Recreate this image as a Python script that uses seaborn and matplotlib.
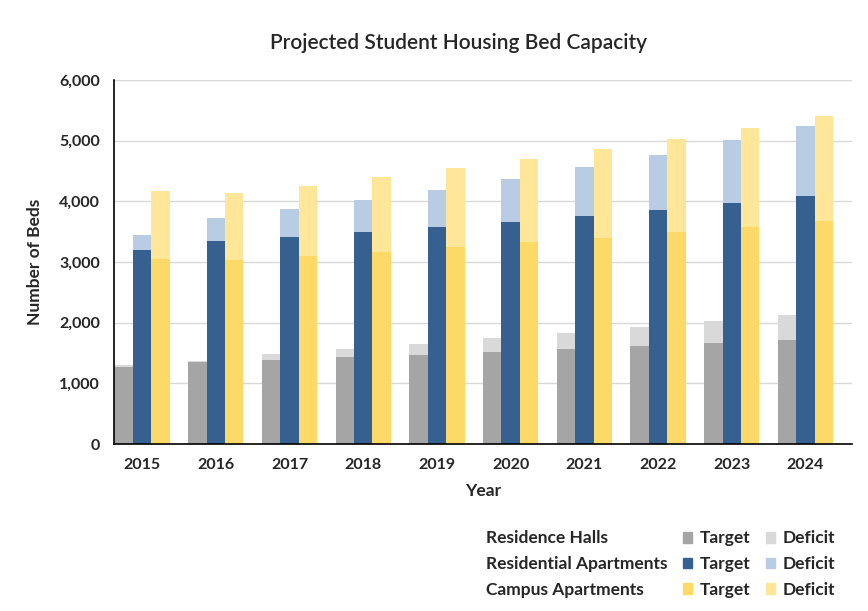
import pandas as pd
import numpy as np
import matplotlib.pyplot as plt
import matplotlib.patches as mpatches
import seaborn as sns

# values
years = ['2015', '2016', '2017', '2018', '2019', '2020', '2021', '2022', '2023', '2024']
housing = ['Residence Halls', 'Residential Apartments', 'Campus Apartments']

halls_target = [1270, 1345, 1385, 1440, 1470, 1515, 1565, 1615, 1665, 1715]
halls_deficit = [25, 22, 98, 127, 180, 230, 265, 315, 365, 413]
res_apt_target = [3200, 3345, 3410, 3495, 3580, 3660, 3765, 3855, 3970, 4090]
res_apt_deficit = [245, 380, 465, 525, 605, 710, 800, 910, 1035, 1150]
camp_apt_target = [3045, 3035, 3100, 3165, 3245, 3330, 3395, 3495, 3575, 3675]
camp_apt_deficit = [1125, 1100, 1155, 1235, 1305, 1370, 1470, 1530, 1635, 1730]

dark_cols = ['#a5a5a5', '#35608f', '#fdd967']
light_cols = ['#d9d9d9', '#b8cce4', '#ffe699']

targets = [halls_target, res_apt_target, camp_apt_target]
deficits = [halls_deficit, res_apt_deficit, camp_apt_deficit]

rows = []
for h, t, d in zip(housing, targets, deficits):
    for y, tv, dv in zip(years, t, d):
        rows.append({'Year': y, 'Housing': h, 'Target': tv, 'Total': tv + dv})
df = pd.DataFrame(rows)

sns.set_style('white')
plt.rcParams['font.family'] = ['Lato', 'DejaVu Sans']

fig = plt.figure(figsize=(8.68, 6.11), dpi=100)
ax = fig.add_axes([114/868, 1-444/611, (852-114)/868, (444-80)/611])

# total (target + deficit) drawn behind, target on top
sns.barplot(data=df, x='Year', y='Total', hue='Housing', hue_order=housing,
            palette=light_cols, width=0.75, errorbar=None, legend=False,
            saturation=1, linewidth=0, ax=ax, zorder=2)
sns.barplot(data=df, x='Year', y='Target', hue='Housing', hue_order=housing,
            palette=dark_cols, width=0.75, errorbar=None, legend=False,
            saturation=1, linewidth=0, ax=ax, zorder=3)

ax.set_xlim(-0.38, 9.63)
ax.set_ylim(0, 6000)
ax.set_yticks(np.arange(0, 6001, 1000))
ax.set_yticklabels([f'{v:,}' for v in range(0, 6001, 1000)])
ax.yaxis.grid(True, color='#d9d9d9', linewidth=1, zorder=0)
ax.set_axisbelow(True)
for s in ['top', 'right']:
    ax.spines[s].set_visible(False)
for s in ['left', 'bottom']:
    ax.spines[s].set_color('black')
    ax.spines[s].set_linewidth(1.2)
    ax.spines[s].set_zorder(5)
ax.tick_params(axis='both', length=0, labelsize=11.5, pad=10)
for lab in ax.get_xticklabels() + ax.get_yticklabels():
    lab.set_fontweight('bold')

ax.set_xlabel('Year', fontsize=12.5, fontweight='bold', labelpad=8)
ax.set_ylabel('Number of Beds', fontsize=12.5, fontweight='bold', labelpad=12)

fig.text(458/868, 1-43/611, 'Projected Student Housing Bed Capacity',
         ha='center', va='center', fontsize=15, fontweight='semibold')

# legend as a small table: row labels, target swatches, deficit swatches
blank = mpatches.Patch(color='none')
handles = [blank]*3 + [mpatches.Patch(color=c) for c in dark_cols] + \
    [mpatches.Patch(color=c) for c in light_cols]
labels = housing + ['Target']*3 + ['Deficit']*3
leg = fig.legend(handles, labels, ncol=3, loc='center', frameon=False,
                 bbox_to_anchor=(652/868, 1-564/611), handlelength=0.55,
                 handleheight=0.55, handletextpad=0.4, columnspacing=0.9,
                 labelspacing=0.55, prop={'size': 12.5, 'weight': 'bold'})

fig.savefig('out.png', dpi=100)
